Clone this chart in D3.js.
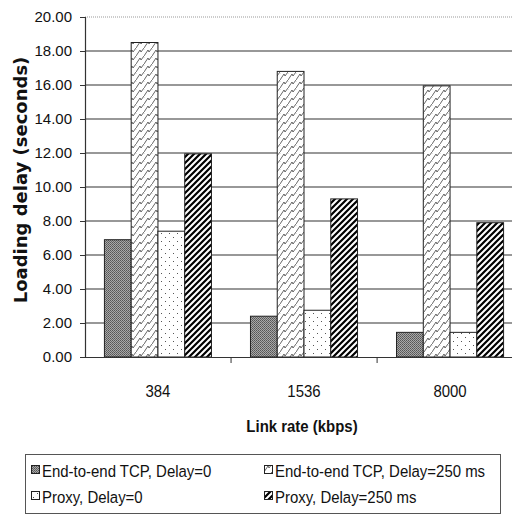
<!DOCTYPE html>
<html>
<head>
<meta charset="utf-8">
<style>
  body { margin: 0; background: #fff; }
  svg { display: block; font-family: "Liberation Sans", Arial, sans-serif; }
</style>
</head>
<body>
<svg width="512" height="516"></svg>
<script src="https://cdn.jsdelivr.net/npm/d3@7"></script>
<script>
  const categories = ["384", "1536", "8000"];
  const seriesNames = [
    "End-to-end TCP, Delay=0",
    "End-to-end TCP, Delay=250 ms",
    "Proxy, Delay=0",
    "Proxy, Delay=250 ms"
  ];
  const e2eDelay0 = [6.9, 2.4, 1.45];
  const e2eDelay250 = [18.5, 16.8, 15.95];
  const proxyDelay0 = [7.4, 2.75, 1.45];
  const proxyDelay250 = [11.95, 9.3, 7.9];
  const yTicks = [0, 2, 4, 6, 8, 10, 12, 14, 16, 18, 20];

  const series = [e2eDelay0, e2eDelay250, proxyDelay0, proxyDelay250];
  const patternIds = ["pDark", "pZig", "pDots", "pDiag"];

  const svg = d3.select("svg");
  const plotLeft = 85, plotTop = 17, plotBottom = 357;

  // patterns
  const defs = svg.append("defs");
  const pd = defs.append("pattern").attr("id", "pDark").attr("patternUnits", "userSpaceOnUse")
    .attr("width", 2).attr("height", 2);
  pd.append("rect").attr("width", 2).attr("height", 2).attr("fill", "#a8a8a8");
  pd.append("rect").attr("width", 1).attr("height", 1).attr("fill", "#555");
  pd.append("rect").attr("x", 1).attr("y", 1).attr("width", 1).attr("height", 1).attr("fill", "#666");

  const pz = defs.append("pattern").attr("id", "pZig").attr("patternUnits", "userSpaceOnUse")
    .attr("width", 8).attr("height", 8);
  pz.append("rect").attr("width", 8).attr("height", 8).attr("fill", "#fff");
  pz.append("path").attr("d", "M0,8 L4,2 L5,4 L8,0 M-2,4 L0,1 M6,12 L10,6")
    .attr("stroke", "#555").attr("stroke-width", 0.9).attr("fill", "none");

  const pdot = defs.append("pattern").attr("id", "pDots").attr("patternUnits", "userSpaceOnUse")
    .attr("width", 8).attr("height", 8);
  pdot.append("rect").attr("width", 8).attr("height", 8).attr("fill", "#fff");
  pdot.append("rect").attr("x", 1).attr("y", 1).attr("width", 1).attr("height", 1).attr("fill", "#555");
  pdot.append("rect").attr("x", 5).attr("y", 5).attr("width", 1).attr("height", 1).attr("fill", "#555");

  const pdg = defs.append("pattern").attr("id", "pDiag").attr("patternUnits", "userSpaceOnUse")
    .attr("width", 6).attr("height", 6);
  pdg.append("rect").attr("width", 6).attr("height", 6).attr("fill", "#fff");
  pdg.append("path").attr("d", "M-1,7 L7,-1 M-4,4 L4,-4 M2,10 L10,2")
    .attr("stroke", "#000").attr("stroke-width", 2.2);

  const y = d3.scaleLinear().domain([0, 20]).range([plotBottom, plotTop]);
  const x0 = d3.scaleBand().domain(categories).range([plotLeft, plotLeft + 438])
    .paddingInner(0.267).paddingOuter(0.133);
  const x1 = d3.scaleBand().domain(d3.range(series.length)).range([0, x0.bandwidth()]);

  // gridlines
  svg.append("g").selectAll("line").data(yTicks.filter(d => d > 0 && d < 20)).join("line")
    .attr("x1", plotLeft).attr("x2", 512)
    .attr("y1", d => y(d)).attr("y2", d => y(d))
    .attr("stroke", "#333").attr("stroke-width", 1.2);
  svg.append("line").attr("x1", plotLeft).attr("x2", 512)
    .attr("y1", y(20)).attr("y2", y(20))
    .attr("stroke", "#999").attr("stroke-dasharray", "1,1");

  // bars
  categories.forEach((c, ci) => {
    svg.append("g").selectAll("rect").data(series.map((s, si) => ({ si, v: s[ci] }))).join("rect")
      .attr("x", d => x0(c) + x1(d.si))
      .attr("y", d => y(d.v))
      .attr("width", x1.bandwidth())
      .attr("height", d => plotBottom - y(d.v))
      .attr("fill", d => `url(#${patternIds[d.si]})`)
      .attr("stroke", "#222").attr("stroke-width", 1);
  });

  // y axis
  const yAxis = svg.append("g").attr("transform", `translate(${plotLeft},0)`)
    .call(d3.axisLeft(y).tickValues(yTicks).tickFormat(d3.format(".2f")).tickSize(5).tickPadding(8));
  yAxis.select(".domain").attr("stroke", "#333").attr("stroke-width", 1.2);
  yAxis.selectAll(".tick line").attr("stroke", "#333");
  yAxis.selectAll("text").attr("font-size", 15).attr("fill", "#111");

  // x axis
  const xAxis = svg.append("g").attr("transform", `translate(0,${plotBottom})`)
    .call(d3.axisBottom(x0).tickSize(0));
  xAxis.select(".domain").attr("stroke", "#333").attr("stroke-width", 1.2);
  xAxis.selectAll("text").attr("font-size", 17).attr("fill", "#111")
    .attr("y", 40).attr("dy", 0).attr("transform", "scale(0.88,1)");
  const step = x0.step();
  xAxis.append("g").selectAll("line").data(categories.slice(1)).join("line")
    .attr("x1", d => x0(d) - step * 0.133).attr("x2", d => x0(d) - step * 0.133)
    .attr("y1", 0).attr("y2", 6).attr("stroke", "#333");

  // axis titles
  svg.append("text").attr("transform", "translate(302,432) scale(0.88,1)").attr("text-anchor", "middle")
    .attr("font-size", 17).attr("font-weight", "bold").attr("fill", "#111")
    .text("Link rate (kbps)");
  svg.append("text").attr("transform", "translate(27,180) rotate(-90)").attr("text-anchor", "middle")
    .attr("font-family", "'DejaVu Sans', sans-serif")
    .attr("font-size", 18).attr("font-weight", "bold").attr("fill", "#111")
    .text("Loading delay (seconds)");

  // legend
  const lg = svg.append("g");
  lg.append("rect").attr("x", 25.5).attr("y", 454.5).attr("width", 475).attr("height", 59)
    .attr("fill", "#fff").attr("stroke", "#555").attr("stroke-width", 1);
  const legendPos = [[31, 477], [264, 477], [31, 503], [264, 503]];
  seriesNames.forEach((name, i) => {
    const [lx, ly] = legendPos[i];
    lg.append("rect").attr("x", lx + 0.5).attr("y", ly - 11.5).attr("width", 8).attr("height", 8)
      .attr("fill", `url(#${patternIds[i]})`).attr("stroke", "#222");
    lg.append("text").attr("transform", `translate(${lx + 11},${ly}) scale(0.88,1)`)
      .attr("font-size", 17).attr("fill", "#111")
      .text(name);
  });
</script>
</body>
</html>
